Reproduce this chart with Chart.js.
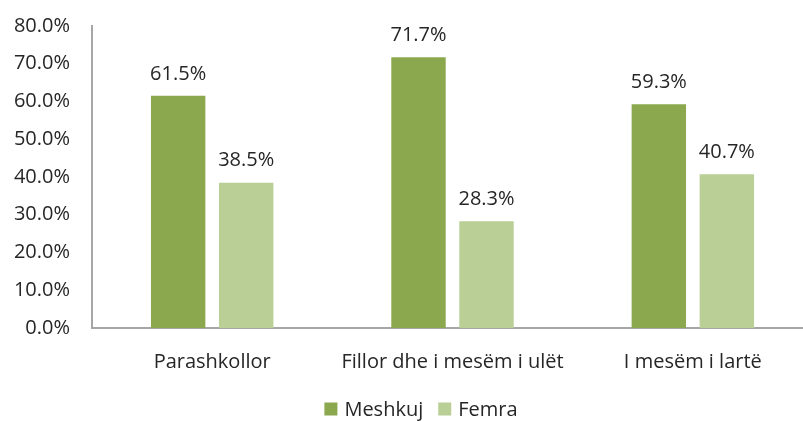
<!DOCTYPE html>
<html>
<head>
<meta charset="utf-8">
<script src="https://cdn.jsdelivr.net/npm/chart.js@4"></script>
<style>
html,body{margin:0;padding:0;background:#fff;overflow:hidden;}
#wrap{width:803px;height:421px;position:relative;overflow:hidden;}
</style>
</head>
<body>
<div id="wrap"><canvas id="c" width="813" height="421"></canvas></div>
<script>
const categories = ["Parashkollor", "Fillor dhe i mesëm i ulët", "I mesëm i lartë"];
const seriesNames = ["Meshkuj", "Femra"];
const meshkuj = [61.5, 71.7, 59.3];
const femra = [38.5, 28.3, 40.7];
const yTicks = [0, 10, 20, 30, 40, 50, 60, 70, 80];
const seriesColors = ["#8BA84E", "#B9CF96"];

const FONT = "'Open Sans', sans-serif";
const TXT = "#262626";

const labelPlugin = {
  id: "barLabels",
  afterDatasetsDraw(chart) {
    const ctx = chart.ctx;
    ctx.save();
    ctx.font = "20px " + FONT;
    ctx.fillStyle = TXT;
    ctx.textAlign = "center";
    ctx.textBaseline = "bottom";
    chart.data.datasets.forEach((ds, i) => {
      const meta = chart.getDatasetMeta(i);
      meta.data.forEach((el, j) => {
        ctx.fillText(ds.data[j].toFixed(1) + "%", el.x, el.y - 12);
      });
    });
    ctx.restore();
  }
};

const legendPlugin = {
  id: "bottomLegend",
  afterDraw(chart) {
    const ctx = chart.ctx;
    ctx.save();
    ctx.font = "20px " + FONT;
    ctx.textBaseline = "middle";
    ctx.textAlign = "left";
    const box = 13, gapText = 7, gapItem = 15, cy = 409, centerX = 421;
    const items = chart.data.datasets.map(ds => ({ label: ds.label, color: ds.backgroundColor, w: box + gapText + ctx.measureText(ds.label).width }));
    const total = items.reduce((s, it) => s + it.w, 0) + gapItem * (items.length - 1);
    let x = centerX - total / 2;
    items.forEach(it => {
      ctx.fillStyle = it.color;
      ctx.fillRect(x, cy - box / 2, box, box);
      ctx.fillStyle = TXT;
      ctx.fillText(it.label, x + box + gapText, cy + 1);
      x += it.w + gapItem;
    });
    ctx.restore();
  }
};

new Chart(document.getElementById("c"), {
  type: "bar",
  data: {
    labels: categories,
    datasets: [
      { label: seriesNames[0], data: meshkuj, backgroundColor: seriesColors[0], categoryPercentage: 0.566, barPercentage: 0.80 },
      { label: seriesNames[1], data: femra, backgroundColor: seriesColors[1], categoryPercentage: 0.566, barPercentage: 0.80 }
    ]
  },
  options: {
    responsive: false,
    animation: false,
    devicePixelRatio: 1,
    layout: { padding: { left: 8, right: 0, top: 7, bottom: 43 } },
    plugins: {
      legend: { display: false },
      tooltip: { enabled: false }
    },
    scales: {
      x: {
        grid: { display: false },
        border: { display: true, color: "#A6A6A6", width: 2 },
        ticks: { font: { family: FONT, size: 20 }, color: TXT, padding: 14, maxRotation: 0 },
        afterFit(scale) { scale.height = 50; }
      },
      y: {
        min: 0, max: 80,
        afterBuildTicks(scale) { scale.ticks = yTicks.map(v => ({ value: v })); },
        afterFit(scale) { scale.width = 84; },
        grid: { display: false },
        border: { display: true, color: "#A6A6A6", width: 2 },
        ticks: { font: { family: FONT, size: 20 }, color: TXT, padding: 14, callback: v => v.toFixed(1) + "%" }
      }
    }
  },
  plugins: [labelPlugin, legendPlugin]
});
</script>
</body>
</html>
